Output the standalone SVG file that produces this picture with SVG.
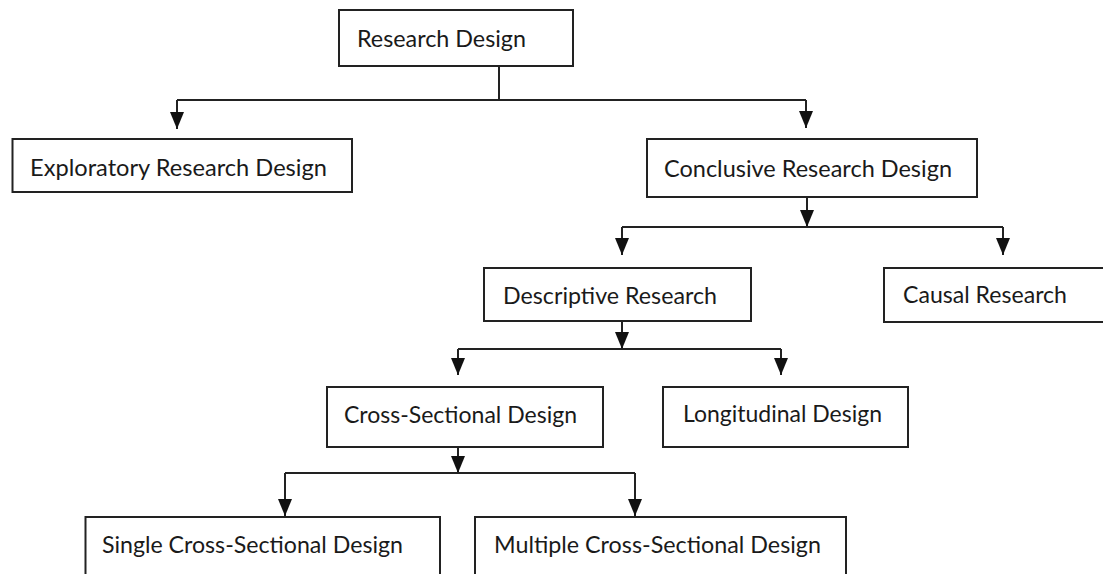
<svg xmlns="http://www.w3.org/2000/svg" width="1103" height="574" viewBox="0 0 1103 574">
<style>
.box{fill:#fff;stroke:#222;stroke-width:2}
.lbl{font-family:Lato,"Liberation Sans",sans-serif;font-size:24px;fill:#1a1a1a}
.ln{fill:none;stroke:#222;stroke-width:2}
.ar{fill:none;stroke:#222;stroke-width:2;marker-end:url(#ah)}
</style>
<defs>
<marker id="ah" markerUnits="userSpaceOnUse" markerWidth="17" markerHeight="14" refX="17" refY="7" orient="auto">
<path d="M0,0 L17,7 L0,14 z" fill="#111"/>
</marker>
</defs>
<rect width="1103" height="574" fill="#fff"/>
<g id="connectors">
<path class="ln" d="M499,66 V100 M177,100 H806"/>
<path class="ar" d="M177,100 V129"/>
<path class="ar" d="M806,100 V128"/>
<path class="ar" d="M807,197 V227"/>
<path class="ln" d="M622,227 H1003"/>
<path class="ar" d="M622,227 V255"/>
<path class="ar" d="M1003,227 V255"/>
<path class="ar" d="M622,321 V349"/>
<path class="ln" d="M458,349 H781"/>
<path class="ar" d="M458,349 V375"/>
<path class="ar" d="M781,349 V375"/>
<path class="ar" d="M458,447 V473"/>
<path class="ln" d="M285,473 H635"/>
<path class="ar" d="M285,473 V516"/>
<path class="ar" d="M635,473 V516"/>
</g>
<g id="research-design">
<rect class="box" x="339" y="10" width="234" height="56"/>
<text class="lbl" x="357" y="47" textLength="169" lengthAdjust="spacingAndGlyphs">Research Design</text>
</g>
<g id="exploratory">
<rect class="box" x="12.5" y="139" width="339.5" height="53"/>
<text class="lbl" x="30" y="176" textLength="297" lengthAdjust="spacingAndGlyphs">Exploratory Research Design</text>
</g>
<g id="conclusive">
<rect class="box" x="647" y="139" width="330" height="58"/>
<text class="lbl" x="664" y="177" textLength="288" lengthAdjust="spacingAndGlyphs">Conclusive Research Design</text>
</g>
<g id="descriptive">
<rect class="box" x="484" y="268" width="267" height="53"/>
<text class="lbl" x="503" y="304" textLength="214" lengthAdjust="spacingAndGlyphs">Descriptive Research</text>
</g>
<g id="causal">
<rect class="box" x="884" y="268" width="225" height="54"/>
<text class="lbl" x="903" y="303" textLength="164" lengthAdjust="spacingAndGlyphs">Causal Research</text>
</g>
<g id="cross-sectional">
<rect class="box" x="327" y="387" width="276" height="60"/>
<text class="lbl" x="344" y="423" textLength="233" lengthAdjust="spacingAndGlyphs">Cross-Sectional Design</text>
</g>
<g id="longitudinal">
<rect class="box" x="663" y="387" width="245" height="60"/>
<text class="lbl" x="683" y="422" textLength="199" lengthAdjust="spacingAndGlyphs">Longitudinal Design</text>
</g>
<g id="single-cross-sectional">
<rect class="box" x="85.5" y="517" width="354.5" height="70"/>
<text class="lbl" x="102" y="553" textLength="301" lengthAdjust="spacingAndGlyphs">Single Cross-Sectional Design</text>
</g>
<g id="multiple-cross-sectional">
<rect class="box" x="475" y="517" width="371" height="70"/>
<text class="lbl" x="494" y="553" textLength="327" lengthAdjust="spacingAndGlyphs">Multiple Cross-Sectional Design</text>
</g>
</svg>
